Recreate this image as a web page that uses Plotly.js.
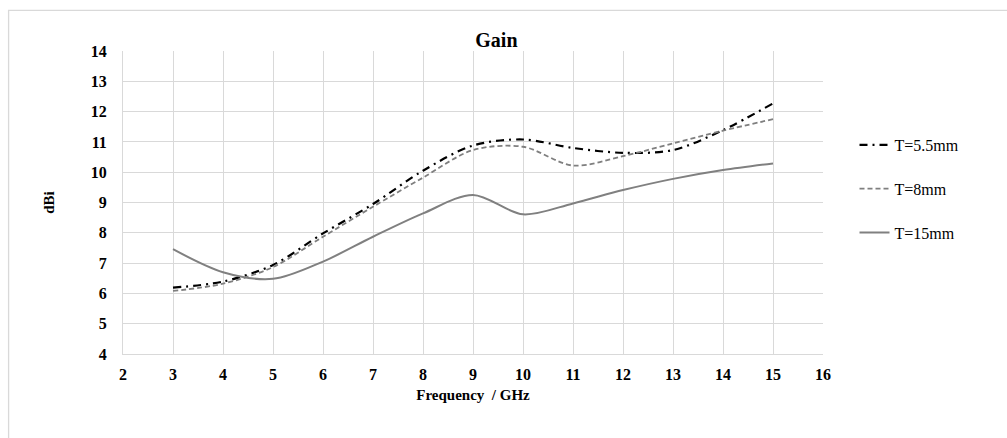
<!DOCTYPE html>
<html>
<head>
<meta charset="utf-8">
<script src="https://cdn.plot.ly/plotly-3.0.1.min.js"></script>
<style>
  html, body { margin: 0; padding: 0; background: #ffffff; }
  #chart { width: 1007px; height: 438px; }
</style>
</head>
<body>
<div id="chart"></div>
<script>
// Frequency points (GHz)
const freq = [3, 4, 5, 6, 7, 8, 9, 10, 11, 12, 13, 14, 15];

// Gain (dBi) for each thickness
const gainT55 = [6.19, 6.39, 6.94, 7.98, 8.95, 10.05, 10.88, 11.08, 10.80, 10.64, 10.73, 11.39, 12.27];
const gainT8  = [6.08, 6.32, 6.87, 7.87, 8.86, 9.82, 10.73, 10.84, 10.22, 10.53, 10.95, 11.37, 11.75];
const gainT15 = [7.46, 6.70, 6.48, 7.05, 7.87, 8.64, 9.25, 8.61, 8.97, 9.41, 9.78, 10.07, 10.29];

const seriesNames = ['T=5.5mm', 'T=8mm', 'T=15mm'];

const xTicks = [2, 3, 4, 5, 6, 7, 8, 9, 10, 11, 12, 13, 14, 15, 16];
const yTicks = [4, 5, 6, 7, 8, 9, 10, 11, 12, 13, 14];

const serif = '"Liberation Serif", "Times New Roman", serif';

function curve(y, name, color, width, dash, group) {
  return {
    x: freq, y: y, name: name, type: 'scatter', mode: 'lines',
    legendgroup: group,
    line: { color: color, width: width, dash: dash, shape: 'spline', smoothing: 0.9 },
    hoverinfo: 'x+y+name'
  };
}

const traces = [
  curve(gainT55, seriesNames[0], '#000000', 2.2, '8px,5px,2px,5px', 'a'),
  curve(gainT8,  seriesNames[1], '#7f7f7f', 1.8, '5px,3px', 'b'),
  curve(gainT15, seriesNames[2], '#808080', 2.0, 'solid', 'c')
];

const layout = {
  width: 1007, height: 438,
  margin: { l: 123.3, r: 184.3, t: 50.7, b: 83.7, pad: 0 },
  paper_bgcolor: '#ffffff', plot_bgcolor: '#ffffff',
  font: { family: serif, color: '#000000' },
  title: {
    text: 'Gain', font: { family: serif, size: 20, weight: 'bold', color: '#000000' },
    xref: 'container', x: 0.493, xanchor: 'center',
    yref: 'container', y: 1 - 40 / 438, yanchor: 'middle'
  },
  xaxis: {
    range: [2, 16], tickvals: xTicks, ticktext: xTicks.map(String),
    showgrid: true, gridcolor: '#d9d9d9', gridwidth: 1,
    showline: true, linecolor: '#d9d9d9', linewidth: 1, zeroline: false,
    ticks: 'outside', ticklen: 6, tickcolor: 'rgba(0,0,0,0)',
    tickfont: { family: serif, size: 16, weight: 'bold', color: '#000000' },
    title: { text: 'Frequency  / GHz', font: { family: serif, size: 15, weight: 'bold', color: '#000000' }, standoff: 7 }
  },
  yaxis: {
    range: [4, 14], tickvals: yTicks, ticktext: yTicks.map(String),
    showgrid: true, gridcolor: '#d9d9d9', gridwidth: 1,
    showline: true, linecolor: '#d9d9d9', linewidth: 1, zeroline: false,
    ticks: 'outside', ticklen: 12, tickcolor: 'rgba(0,0,0,0)',
    tickfont: { family: serif, size: 16, weight: 'bold', color: '#000000' },
    title: { text: 'dBi', font: { family: serif, size: 15, weight: 'bold', color: '#000000' }, standoff: 32 }
  },
  legend: {
    x: 1.045, xanchor: 'left', y: 0.746, yanchor: 'top',
    font: { family: serif, size: 16, color: '#000000' },
    tracegroupgap: 20, bgcolor: 'rgba(0,0,0,0)', borderwidth: 0
  },
  shapes: [{
    type: 'rect', xref: 'paper', yref: 'paper', layer: 'below',
    x0: (9 - 123.3) / 699.4, x1: 1.4, y0: -0.5, y1: (354.3 - 10) / 303.6,
    line: { color: '#d9d9d9', width: 1.3 }, fillcolor: 'rgba(0,0,0,0)'
  }],
  showlegend: true
};

Plotly.newPlot('chart', traces, layout, { displayModeBar: false, staticPlot: true });
</script>
</body>
</html>
